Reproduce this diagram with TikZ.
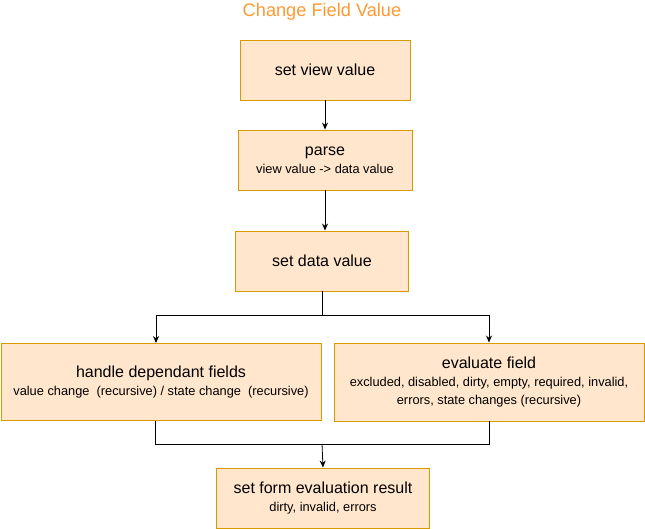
\documentclass[tikz,border=0pt]{standalone}
\usepackage{fontspec}
\setmainfont{Liberation Sans}
\usetikzlibrary{arrows.meta}
\definecolor{boxfill}{HTML}{FFE6CC}
\definecolor{boxline}{HTML}{D79B00}
\definecolor{titleorange}{HTML}{FF9933}
\newcommand{\subtext}{\fontsize{12.8}{15}\selectfont}
\begin{document}
\begin{tikzpicture}[x=1pt, y=-1pt,
    stepbox/.style={draw=boxline, fill=boxfill, line width=0.9pt, align=center,
        inner sep=0pt, font=\fontsize{16}{18}\selectfont},
    arr/.style={-{Stealth[length=7pt, width=6pt]}, line width=0.8pt},
    link/.style={line width=0.8pt}]
    \useasboundingbox (0,0) rectangle (645,529);

    % Title
    \node[font=\fontsize{18.2}{20}\selectfont, text=titleorange] (title) at (322,12) {Change Field Value};

    % Main chain
    \node[stepbox, minimum width=170pt, minimum height=60pt] (view) at (325,70) {set view value};
    \node[stepbox, minimum width=174pt, minimum height=60pt] (parse) at (325,160)
        {parse\\[0pt]{\subtext view value -> data value}};
    \node[stepbox, minimum width=173pt, minimum height=60pt] (data) at (322,261) {set data value};

    % Branches
    \node[stepbox, minimum width=320pt, minimum height=77pt] (dep) at (161,382)
        {handle dependant fields\\[0pt]{\subtext value change~ (recursive) / state change~ (recursive)}};
    \node[stepbox, minimum width=310pt, minimum height=78pt] (eval) at (489,382)
        {evaluate field\\[0pt]{\subtext excluded, disabled, dirty, empty, required, invalid,}\\
         {\subtext errors, state changes (recursive)}};

    % Result
    \node[stepbox, minimum width=213pt, minimum height=60pt] (result) at (323,498)
        {set form evaluation result\\[0pt]{\subtext dirty, invalid, errors}};

    % Connectors
    \coordinate (split) at (322,315);
    \coordinate (merge) at (322,444);
    \draw[arr] (view) -- (parse);
    \draw[arr] (parse) -- (parse |- data.north);
    \draw[link] (data.south) -- (split);
    \draw[arr] (split) -| ([xshift=-5pt]dep.north);
    \draw[arr] (split) -| (eval.north);
    \draw[link] ([xshift=-6pt]dep.south) |- (merge);
    \draw[link] (eval.south) |- (merge);
    \draw[arr] (merge) -- (result.north);
\end{tikzpicture}
\end{document}
